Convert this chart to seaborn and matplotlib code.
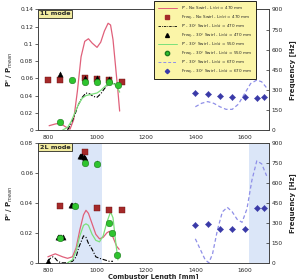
import matplotlib
matplotlib.use("Agg")
import matplotlib.pyplot as plt
from matplotlib.lines import Line2D
import seaborn as sns

sns.set_theme(style="white")
plt.rcParams["font.family"] = ["DejaVu Sans"]

# ---- 1L mode (top) ----
red_top_x = [805, 830, 850, 870, 890, 905, 920, 935, 950, 965, 980, 1000, 1015, 1030, 1045, 1055, 1065, 1075, 1085, 1092]
red_top_y = [0.005, 0.007, 0.008, 0.004, 0.001, 0.012, 0.045, 0.085, 0.103, 0.106, 0.101, 0.096, 0.102, 0.115, 0.124, 0.122, 0.105, 0.075, 0.045, 0.022]
blk_top_x = [880, 895, 910, 925, 940, 955, 970, 985, 1000, 1015, 1030, 1045, 1060, 1075, 1085]
blk_top_y = [0.0, 0.008, 0.018, 0.03, 0.038, 0.043, 0.042, 0.039, 0.038, 0.042, 0.048, 0.053, 0.055, 0.053, 0.049]
grn_top_x = [860, 880, 895, 910, 925, 940, 955, 970, 985, 1000, 1015, 1030, 1045, 1060, 1075, 1085, 1092]
grn_top_y = [0.0, 0.003, 0.01, 0.02, 0.03, 0.037, 0.04, 0.041, 0.042, 0.043, 0.046, 0.05, 0.054, 0.055, 0.052, 0.048, 0.044]
blu_top_x = [1400, 1425, 1450, 1475, 1500, 1525, 1550, 1575, 1600, 1625, 1650, 1670, 1690]
blu_top_y = [0.027, 0.031, 0.033, 0.031, 0.027, 0.024, 0.024, 0.03, 0.042, 0.054, 0.058, 0.056, 0.049]

sq_top_x = [800, 850, 950, 1000, 1050, 1100]
sq_top_f = [375, 370, 385, 380, 372, 360]
tri_top_x = [850, 950, 1000, 1050]
tri_top_f = [420, 390, 385, 378]
cir_top_x = [850, 900, 950, 1000, 1050, 1085]
cir_top_f = [60, 375, 362, 358, 360, 338]
dia_top_x = [1400, 1450, 1500, 1550, 1600, 1650, 1680]
dia_top_f = [273, 268, 251, 244, 244, 241, 246]

# ---- 2L mode (bottom) ----
red_bot_x = [800, 815, 830, 845, 860, 880, 900, 915, 930, 945, 955, 965, 980, 995, 1010, 1025, 1040, 1050, 1060, 1070, 1080, 1090]
red_bot_y = [0.004, 0.005, 0.006, 0.005, 0.004, 0.003, 0.004, 0.01, 0.022, 0.032, 0.035, 0.033, 0.026, 0.019, 0.016, 0.017, 0.02, 0.021, 0.019, 0.015, 0.011, 0.009]
blk_bot_x = [800, 810, 820, 830, 840, 855, 880, 900, 915, 925, 935, 945, 955, 965, 980, 995, 1010, 1030, 1050, 1065]
blk_bot_y = [0.001, 0.003, 0.004, 0.003, 0.001, 0.0, 0.0, 0.001, 0.004, 0.01, 0.014, 0.018, 0.017, 0.013, 0.009, 0.004, 0.003, 0.002, 0.001, 0.001]
grn_bot_x = [880, 900, 915, 930, 945, 955, 965, 980, 995, 1010, 1025, 1040, 1055, 1065, 1075, 1085]
grn_bot_y = [0.0, 0.002, 0.008, 0.018, 0.025, 0.026, 0.025, 0.019, 0.015, 0.014, 0.018, 0.027, 0.034, 0.03, 0.015, 0.002]
blu_bot_x = [1400, 1420, 1440, 1455, 1470, 1490, 1510, 1530, 1550, 1570, 1590, 1610, 1630, 1650, 1670, 1690]
blu_bot_y = [0.016, 0.009, 0.002, 0.0, 0.006, 0.022, 0.034, 0.037, 0.034, 0.029, 0.027, 0.036, 0.055, 0.068, 0.066, 0.058]

sq_bot_x = [850, 950, 1000, 1050, 1100]
sq_bot_f = [428, 830, 408, 398, 395]
tri_bot_x = [800, 840, 845, 850, 855, 860, 895, 900, 910, 930, 935, 940, 945, 950, 1000]
tri_bot_f = [17, 190, 190, 190, 190, 190, 430, 430, 430, 805, 805, 800, 795, 790, 752]
cir_bot_x = [850, 910, 950, 1000, 1050, 1060, 1080]
cir_bot_f = [189, 428, 751, 743, 298, 224, 60]
dia_bot_x = [1400, 1450, 1500, 1550, 1600, 1650, 1680]
dia_bot_f = [283, 291, 254, 254, 254, 408, 408]

shade_spans = [(900, 1020), (1620, 1700)]

RED, SQ = "#e0607a", "#a52a2a"
GRN, CIR = "#7be07b", "#2ec42e"
BLU, DIA = "#8f8fe8", "#3a3aa8"

fig = plt.figure(figsize=(3.02, 2.79), dpi=100)
ax1 = fig.add_axes([0.126, 0.534, 0.765, 0.432])
ax2 = fig.add_axes([0.126, 0.058, 0.765, 0.430])


def panel(ax, lines, pts, ymax, ytick, tag):
    (rx, ry), (kx, ky), (gx, gy), (bx, by) = lines
    sns.lineplot(x=rx, y=ry, ax=ax, color=RED, lw=0.9, sort=False)
    sns.lineplot(x=kx, y=ky, ax=ax, color="black", lw=0.8, sort=False, linestyle=(0, (4, 1.5, 1, 1.5)))
    sns.lineplot(x=gx, y=gy, ax=ax, color=GRN, lw=0.9, sort=False)
    sns.lineplot(x=bx, y=by, ax=ax, color=BLU, lw=0.9, sort=False, linestyle=(0, (3, 2)))
    ax.set_xlim(760, 1700)
    ax.set_ylim(0, ymax)
    n = int(round(ymax / ytick))
    ax.set_yticks([i * ytick for i in range(n + 1)])
    ax.set_yticklabels([("%g" % round(i * ytick, 2)) for i in range(n + 1)])
    ax.set_xticks([800, 1000, 1200, 1400, 1600])
    ax.tick_params(labelsize=4.2, length=2, width=0.5, pad=1.5)
    ax.set_ylabel("P' / P$_{mean}$", fontsize=5, labelpad=4, fontweight="bold")
    for s in ax.spines.values():
        s.set_linewidth(0.6)
        s.set_color("#444444")
    ax.text(0.008, 0.985, tag, transform=ax.transAxes, fontsize=4.6, fontweight="bold", va="top", ha="left",
            bbox=dict(boxstyle="square,pad=0.22", fc="#f2eca0", ec="black", lw=0.5))

    tw = ax.twinx()
    (sx, sf), (tx, tf), (cx, cf), (dx, df) = pts
    sns.scatterplot(x=sx, y=sf, ax=tw, marker="s", color=SQ, s=14, edgecolor="#6a1010", linewidth=0.3, zorder=3)
    sns.scatterplot(x=tx, y=tf, ax=tw, marker="^", color="black", s=14, edgecolor="black", linewidth=0.3, zorder=3)
    sns.scatterplot(x=cx, y=cf, ax=tw, marker="o", color=CIR, s=22, edgecolor="#1d7a1d", linewidth=0.4, zorder=4)
    sns.scatterplot(x=dx, y=df, ax=tw, marker="D", color=DIA, s=10, edgecolor=DIA, linewidth=0.3, zorder=3)
    tw.set_ylim(0, 900)
    tw.set_yticks(range(0, 901, 150))
    tw.tick_params(labelsize=4.2, length=2, width=0.5, pad=2, direction="in")
    tw.set_ylabel("Frequency [Hz]", fontsize=5, labelpad=4, fontweight="bold")
    for s in tw.spines.values():
        s.set_linewidth(0.6)
        s.set_color("#444444")
    return tw


panel(ax1,
      [(red_top_x, red_top_y), (blk_top_x, blk_top_y), (grn_top_x, grn_top_y), (blu_top_x, blu_top_y)],
      [(sq_top_x, sq_top_f), (tri_top_x, tri_top_f), (cir_top_x, cir_top_f), (dia_top_x, dia_top_f)],
      0.14, 0.02, "1L mode")
for a, b in shade_spans:
    ax2.axvspan(a, b, color="#dbe6f8", lw=0, zorder=0)
panel(ax2,
      [(red_bot_x, red_bot_y), (blk_bot_x, blk_bot_y), (grn_bot_x, grn_bot_y), (blu_bot_x, blu_bot_y)],
      [(sq_bot_x, sq_bot_f), (tri_bot_x, tri_bot_f), (cir_bot_x, cir_bot_f), (dia_bot_x, dia_bot_f)],
      0.08, 0.02, "2L mode")
ax2.set_xlabel("Combustor Length [mm]", fontsize=4.8, labelpad=0.6, fontweight="bold")

handles = [
    Line2D([], [], color=RED, lw=0.7),
    Line2D([], [], ls="", marker="s", color=SQ, ms=2.6),
    Line2D([], [], color="black", lw=0.6, ls=(0, (3, 1.2, 1, 1.2))),
    Line2D([], [], ls="", marker="^", color="black", ms=2.8),
    Line2D([], [], color=GRN, lw=0.7),
    Line2D([], [], ls="", marker="o", color=CIR, mec="#1d7a1d", ms=3.1),
    Line2D([], [], color=BLU, lw=0.7, ls=(0, (3, 2))),
    Line2D([], [], ls="", marker="D", color=DIA, ms=2.2),
]
labels = [
    "P' - No Swirl - L$_{inlet}$ = 470 mm",
    "Freq. - No Swirl - L$_{inlet}$ = 470 mm",
    "P' - 30° Swirl - L$_{inlet}$ = 470 mm",
    "Freq. - 30° Swirl - L$_{inlet}$ = 470 mm",
    "P' - 30° Swirl - L$_{inlet}$ = 550 mm",
    "Freq. - 30° Swirl - L$_{inlet}$ = 550 mm",
    "P' - 30° Swirl - L$_{inlet}$ = 670 mm",
    "Freq. - 30° Swirl - L$_{inlet}$ = 670 mm",
]
leg = fig.legend(handles, labels, loc="upper left", bbox_to_anchor=(0.51, 0.998), fontsize=3.0,
                 frameon=True, fancybox=False, facecolor="#fbf5a8", edgecolor="black",
                 handlelength=4.5, labelspacing=0.3, borderpad=0.9, handletextpad=1.0,
                 borderaxespad=0)
leg.get_frame().set_linewidth(0.6)
leg.get_frame().set_alpha(1)
leg.set_zorder(10)

fig.savefig("out.png", dpi=100)
